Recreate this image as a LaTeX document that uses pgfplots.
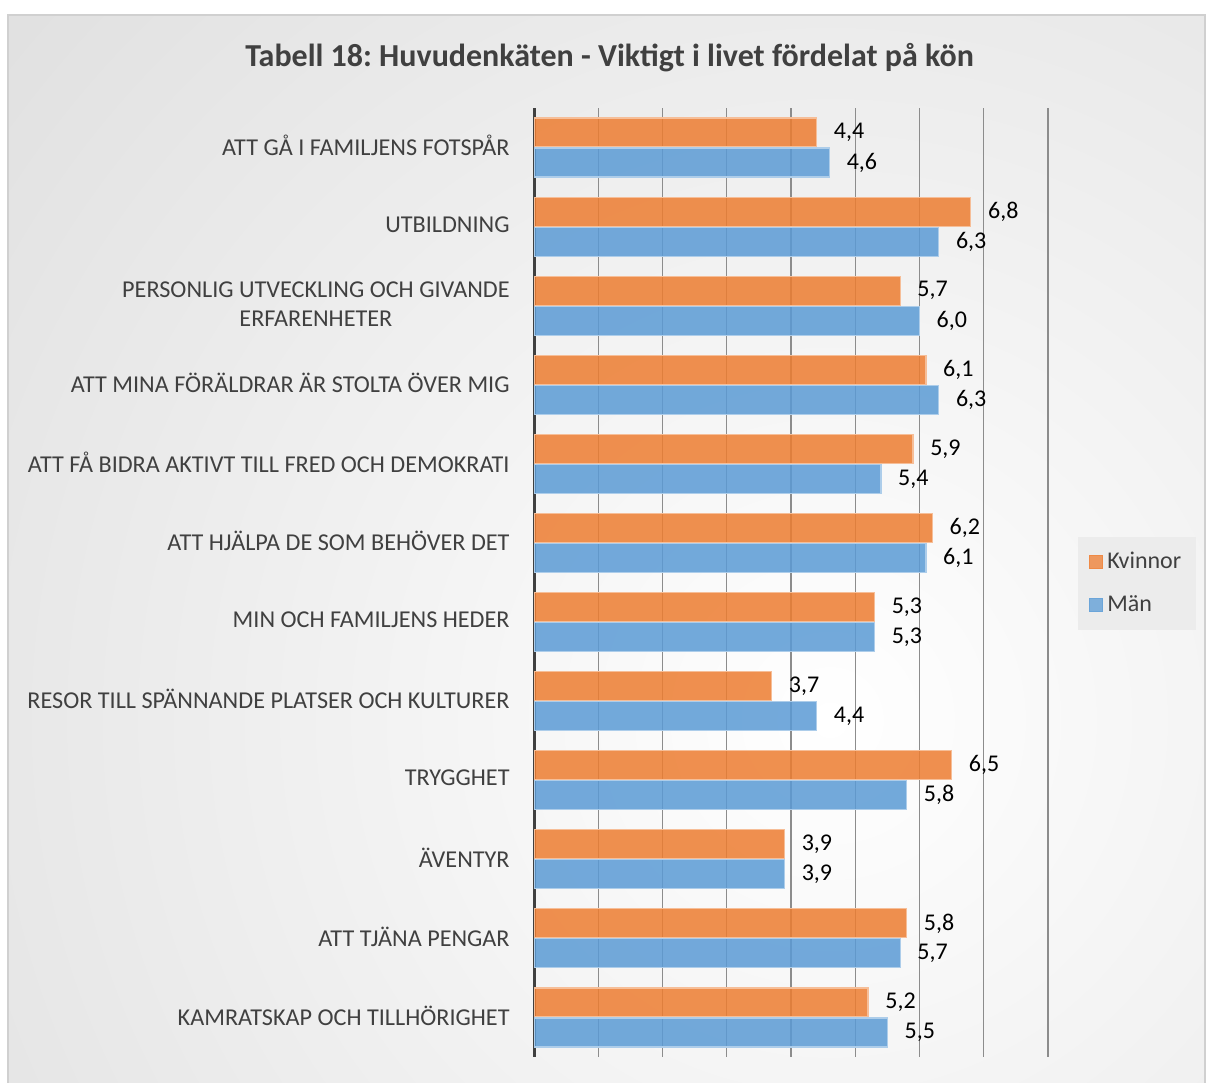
\documentclass[border=0pt]{standalone}
\usepackage{fontspec}
\setmainfont{Carlito}
\usepackage{pgfplots}
\pgfplotsset{compat=1.18}
\frenchspacing
\definecolor{korange}{HTML}{ED7D31}
\definecolor{mblue}{HTML}{5B9BD5}
\definecolor{txtgray}{HTML}{404040}
\definecolor{gridgray}{HTML}{8C8C8C}
\definecolor{bggray}{HTML}{C2C2C2}
\definecolor{framegray}{HTML}{D0D0D0}
\definecolor{leggray}{HTML}{ECECEC}

% Kvinnor / Män, category index 0 = top
\pgfplotstableread{
idx kv man
0  4.4 4.6
1  6.8 6.3
2  5.7 6.0
3  6.1 6.3
4  5.9 5.4
5  6.2 6.1
6  5.3 5.3
7  3.7 4.4
8  6.5 5.8
9  3.9 3.9
10 5.8 5.7
11 5.2 5.5
}\viktigt

\begin{document}
\begin{tikzpicture}
\useasboundingbox (0bp,0bp) rectangle (603.5bp,541.5bp);
\fill[white] (0bp,0bp) rectangle (603.5bp,541.5bp);
\begin{scope}
\clip (4bp,0bp) rectangle (602.5bp,534bp);
\shade[inner color=white, outer color=bggray] (415bp,181.5bp) circle (1083bp);
\end{scope}
\draw[framegray, line width=0.8bp] (4bp,-2bp) rectangle (602.5bp,534bp);

\node[txtgray, font=\fontsize{16bp}{19bp}\selectfont\bfseries] at (304.75bp,512.5bp)
  {Tabell 18: Huvudenkäten - Viktigt i livet fördelat på kön};

\begin{axis}[
 at={(267bp,13bp)}, anchor=south west, scale only axis,
 width=257bp, height=474.5bp,
 xbar, xmin=0, xmax=8,
 ymin=-0.5, ymax=11.5, y dir=reverse,
 bar width=14.5bp,
 axis lines*=left,
 x axis line style={draw=none},
 y axis line style={txtgray, line width=1.5bp},
 xtick={0,...,8}, xticklabels={},
 xmajorgrids, grid style={gridgray, line width=0.7bp},
 ytick={0,...,11}, major tick length=0pt,
 yticklabels={ATT GÅ I FAMILJENS FOTSPÅR, UTBILDNING,
   {PERSONLIG UTVECKLING OCH GIVANDE\\ERFARENHETER},
   ATT MINA FÖRÄLDRAR ÄR STOLTA ÖVER MIG,
   ATT FÅ BIDRA AKTIVT TILL FRED OCH DEMOKRATI,
   ATT HJÄLPA DE SOM BEHÖVER DET, MIN OCH FAMILJENS HEDER,
   RESOR TILL SPÄNNANDE PLATSER OCH KULTURER, TRYGGHET, ÄVENTYR,
   ATT TJÄNA PENGAR, KAMRATSKAP OCH TILLHÖRIGHET},
 yticklabel style={txtgray, align=center, anchor=east, inner sep=0pt, xshift=-12bp,
   yshift=1bp, font=\fontsize{12.1bp}{14.5bp}\selectfont},
 point meta=x,
 nodes near coords={\pgfmathprintnumber[fixed,fixed zerofill,precision=1,use comma,assume math mode=true]{\pgfplotspointmeta}},
 nodes near coords style={anchor=west, xshift=5bp, black, text opacity=1,
   font=\fontsize{12bp}{14bp}\selectfont},
 legend style={at={(1.058,0.548)}, anchor=north west, draw=none, fill=leggray,
   font=\fontsize{12bp}{14bp}\selectfont, text=txtgray,
   row sep=8bp, inner xsep=5.5bp, inner ysep=5.5bp},
 legend cell align=left,
]
\addplot[fill=korange, fill opacity=0.85, draw=korange!50!white, line width=0.6bp,
  bar shift=7.5bp,
  legend image code/.code={\fill[korange!90!white] (0bp,-3.25bp) rectangle (6.5bp,3.25bp);}]
  table[x=kv, y=idx] {\viktigt};
\addlegendentry{Kvinnor}
\addplot[fill=mblue, fill opacity=0.85, draw=mblue!50!white, line width=0.6bp,
  bar shift=-7.5bp,
  legend image code/.code={\fill[mblue!90!white] (0bp,-3.25bp) rectangle (6.5bp,3.25bp);}]
  table[x=man, y=idx] {\viktigt};
\addlegendentry{Män}
\end{axis}
\end{tikzpicture}
\end{document}
